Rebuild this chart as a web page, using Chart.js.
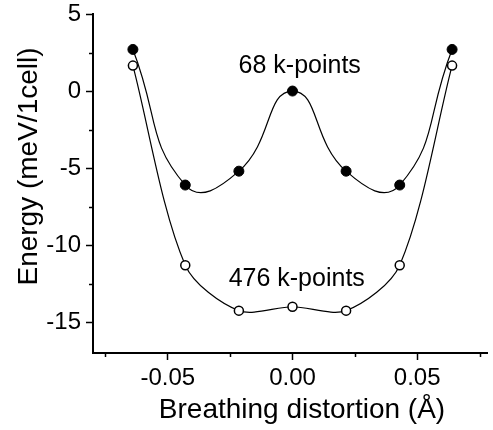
<!DOCTYPE html>
<html><head><meta charset="utf-8">
<script src="https://cdn.jsdelivr.net/npm/chart.js@4/dist/chart.umd.min.js"></script>
<style>html,body{margin:0;padding:0;background:#fff;overflow:hidden}#wrap{width:493px;height:430px;position:relative}</style>
</head><body><div id="wrap"><canvas id="c" width="493" height="430"></canvas></div>
<script>
// ---- data ----
const distortion = [-0.064, -0.043, -0.0215, 0, 0.0215, 0.043, 0.064];
const energy68 = [2.7, -6.1, -5.2, 0, -5.2, -6.1, 2.7];
const energy476 = [1.65, -11.3, -14.25, -14.0, -14.25, -11.3, 1.65];
const seriesNames = ['68 k-points', '476 k-points'];
const xTickValues = [-0.075, -0.05, -0.025, 0, 0.025, 0.05, 0.075];
const xMajorTicks = [-0.05, 0, 0.05];
const yTickValues = [-15, -12.5, -10, -7.5, -5, -2.5, 0, 2.5, 5];
const yMajorTicks = [-15, -10, -5, 0, 5];
const xTitle = 'Breathing distortion (\u00C5)';
const yTitle = 'Energy (meV/1cell)';
// annotation anchors (data coordinates)
const noteX = [0.0029, 0.0017];
const noteY = [1.14, -12.65];

const FONT = '"Liberation Sans", Arial, Helvetica, sans-serif';
const isIn = (v, arr) => arr.some(m => Math.abs(m - v) < 1e-9);

const extras = {
  id: 'extras',
  afterDraw(chart) {
    const {ctx, scales: {x, y}, chartArea} = chart;
    ctx.save();
    ctx.strokeStyle = '#000';
    ctx.lineWidth = 1.5;
    // minor ticks
    yTickValues.filter(v => !isIn(v, yMajorTicks)).forEach(v => {
      const py = Math.round(y.getPixelForValue(v)) + 0.5;
      ctx.beginPath(); ctx.moveTo(chartArea.left - 4, py); ctx.lineTo(chartArea.left, py); ctx.stroke();
    });
    xTickValues.filter(v => !isIn(v, xMajorTicks)).forEach(v => {
      const px = Math.round(x.getPixelForValue(v)) + 0.5;
      ctx.beginPath(); ctx.moveTo(px, chartArea.bottom); ctx.lineTo(px, chartArea.bottom + 4); ctx.stroke();
    });
    // series notes
    ctx.fillStyle = '#000';
    ctx.font = '25px ' + FONT;
    ctx.textAlign = 'center';
    ctx.textBaseline = 'alphabetic';
    seriesNames.forEach((t, i) => {
      ctx.fillText(t, x.getPixelForValue(noteX[i]), y.getPixelForValue(noteY[i]));
    });
    // axis titles
    ctx.font = '28px ' + FONT;
    ctx.fillText(xTitle, 302, 418);
    ctx.translate(37, 166.5);
    ctx.rotate(-Math.PI / 2);
    ctx.fillText(yTitle, 0, 0);
    ctx.restore();
  }
};

new Chart(document.getElementById('c'), {
  type: 'scatter',
  data: {
    datasets: [
      {
        label: seriesNames[0],
        data: distortion.map((d, i) => ({x: d, y: energy68[i]})),
        showLine: true, tension: 0.5,
        borderColor: '#000', borderWidth: 1.2,
        pointRadius: 5, pointBackgroundColor: '#000', pointBorderColor: '#000', pointBorderWidth: 1
      },
      {
        label: seriesNames[1],
        data: distortion.map((d, i) => ({x: d, y: energy476[i]})),
        showLine: true, tension: 0.3,
        borderColor: '#000', borderWidth: 1.2,
        pointRadius: 4.5, pointBackgroundColor: '#fff', pointBorderColor: '#000', pointBorderWidth: 1.5
      }
    ]
  },
  options: {
    responsive: false,
    animation: false,
    layout: {padding: {top: 14, right: 0, left: 0, bottom: 0}},
    plugins: {legend: {display: false}, tooltip: {enabled: false}},
    scales: {
      x: {
        type: 'linear', min: -0.08, max: 0.078,
        afterBuildTicks: s => { s.ticks = xTickValues.map(v => ({value: v})); },
        afterFit: s => { s.height = 77; s.paddingLeft = 0; s.paddingRight = 0; },
        ticks: {
          autoSkip: false, maxRotation: 0, padding: 4, color: '#000',
          font: {family: FONT, size: 24},
          callback: v => isIn(v, xMajorTicks) ? v.toFixed(2) : ''
        },
        grid: {
          drawOnChartArea: false, drawTicks: true, tickLength: 7, tickWidth: 1.5,
          tickColor: c => (c.tick && isIn(c.tick.value, xMajorTicks)) ? '#000' : 'rgba(0,0,0,0)'
        },
        border: {display: true, color: '#000', width: 2}
      },
      y: {
        type: 'linear', min: -17, max: 5,
        afterBuildTicks: s => { s.ticks = yTickValues.map(v => ({value: v})); },
        afterFit: s => { s.width = 93; s.paddingTop = 0; s.paddingBottom = 0; },
        ticks: {
          autoSkip: false, padding: 5, color: '#000',
          font: {family: FONT, size: 24},
          callback: v => isIn(v, yMajorTicks) ? String(v) : ''
        },
        grid: {
          drawOnChartArea: false, drawTicks: true, tickLength: 7, tickWidth: 1.5,
          tickColor: c => (c.tick && isIn(c.tick.value, yMajorTicks)) ? '#000' : 'rgba(0,0,0,0)'
        },
        border: {display: true, color: '#000', width: 2}
      }
    }
  },
  plugins: [extras]
});
</script>
</body></html>
